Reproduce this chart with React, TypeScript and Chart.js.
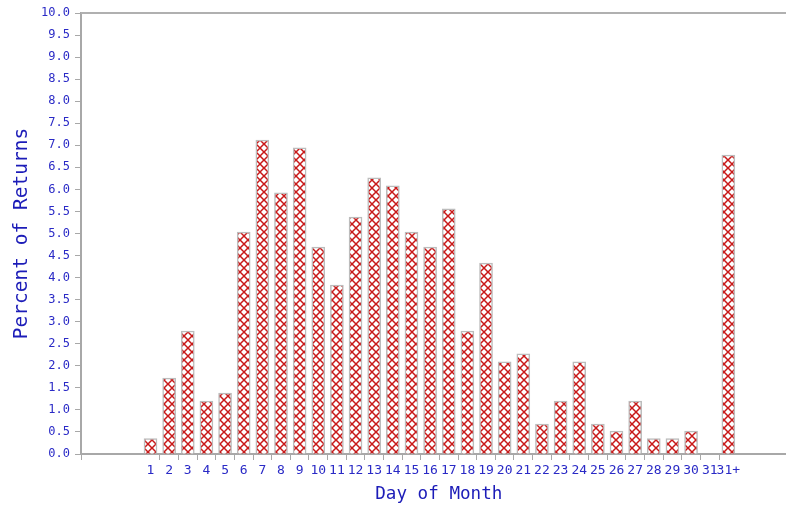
import { useEffect, useRef } from 'react';
import { Chart, registerables } from 'chart.js';

Chart.register(...registerables);

const dayLabels = [
  '1', '2', '3', '4', '5', '6', '7', '8', '9', '10',
  '11', '12', '13', '14', '15', '16', '17', '18', '19', '20',
  '21', '22', '23', '24', '25', '26', '27', '28', '29', '30',
  '31', '31+',
];

const percentReturns = [
  0.35, 1.72, 2.79, 1.2, 1.38, 5.03, 7.12, 5.92, 6.94, 4.69,
  3.83, 5.37, 6.26, 6.08, 5.03, 4.69, 5.56, 2.79, 4.33, 2.09,
  2.27, 0.68, 1.2, 2.09, 0.68, 0.52, 1.2, 0.35, 0.35, 0.52,
  0, 6.78,
];

const yMin = 0;
const yMax = 10;
const yStep = 0.5;

const xMin = -2.729;
const xMax = 35.093;

const tickBlue = '#2a2ac6';
const titleBlue = '#1c1cb8';
const axisGray = '#a8a8a8';
const mono = 'DejaVu Sans Mono';

export default function App() {
  const ref = useRef<HTMLCanvasElement>(null);

  useEffect(() => {
    document.body.style.margin = '0';
    const tile = document.createElement('canvas');
    tile.width = 8;
    tile.height = 8;
    const t = tile.getContext('2d')!;
    t.fillStyle = '#ffffff';
    t.fillRect(0, 0, 8, 8);
    t.strokeStyle = '#c81818';
    t.lineWidth = 1.5;
    t.beginPath();
    t.moveTo(0, 0);
    t.lineTo(8, 8);
    t.moveTo(8, 0);
    t.lineTo(0, 8);
    t.stroke();
    const ctx = ref.current!.getContext('2d')!;
    const pattern = ctx.createPattern(tile, 'repeat');

    const topBorder = {
      id: 'topBorder',
      afterDraw(chart: any) {
        const { ctx: c, chartArea } = chart;
        c.save();
        c.strokeStyle = '#b0b0b0';
        c.lineWidth = 2;
        c.beginPath();
        c.moveTo(chartArea.left, chartArea.top);
        c.lineTo(chartArea.right, chartArea.top);
        c.stroke();
        c.restore();
      },
    };

    const chart = new Chart(ref.current!, {
      type: 'bar',
      data: {
        datasets: [
          {
            data: percentReturns.map((v, i) => ({ x: i + 1, y: v })),
            backgroundColor: pattern as any,
            borderColor: '#bcbcbc',
            borderWidth: 1.5,
            barThickness: 13,
          },
        ],
      },
      options: {
        animation: false,
        responsive: false,
        maintainAspectRatio: false,
        layout: { padding: { top: 13, right: 0, bottom: 0, left: 0 } },
        plugins: { legend: { display: false }, tooltip: { enabled: false } },
        scales: {
          x: {
            type: 'linear',
            bounds: 'data',
            offset: false,
            min: xMin,
            max: xMax,
            afterBuildTicks: (s: any) => {
              s.ticks = [{ value: s.min }, ...dayLabels.map((_, i) => ({ value: i + 1.5 }))];
            },
            afterFit: (s: any) => {
              s.height = 52;
            },
            ticks: {
              autoSkip: false,
              maxRotation: 0,
              minRotation: 0,
              labelOffset: -9.32,
              padding: 3,
              color: tickBlue,
              font: { family: mono, size: 13 },
              callback: (v: any) => {
                const i = Math.round(Number(v) - 1.5);
                return i >= 0 && i < dayLabels.length ? dayLabels[i] : '';
              },
            },
            grid: {
              offset: false,
              drawOnChartArea: false,
              tickLength: 6,
              color: (c: any) => (c.index === dayLabels.length ? 'rgba(0,0,0,0)' : axisGray),
            },
            border: { color: axisGray, width: 2 },
            title: {
              display: true,
              text: ' Day of Month',
              color: titleBlue,
              font: { family: mono, size: 17.6 },
              padding: { top: 0, bottom: 1 },
            },
          },
          y: {
            min: yMin,
            max: yMax,
            afterFit: (s: any) => {
              s.width = 81;
            },
            ticks: {
              stepSize: yStep,
              padding: 5,
              color: tickBlue,
              font: { family: mono, size: 12 },
              callback: (v: any) => Number(v).toFixed(1),
            },
            grid: { drawOnChartArea: false, tickLength: 6, color: axisGray },
            border: { color: axisGray, width: 2 },
            title: {
              display: true,
              text: 'Percent of Returns',
              color: titleBlue,
              font: { family: mono, size: 19.5 },
              padding: { top: 10, bottom: 0 },
            },
          },
        },
      },
      plugins: [topBorder],
    });
    return () => chart.destroy();
  }, []);

  return (
    <div style={{ width: 786, height: 506 }}>
      <canvas ref={ref} width={786} height={506} />
    </div>
  );
}
